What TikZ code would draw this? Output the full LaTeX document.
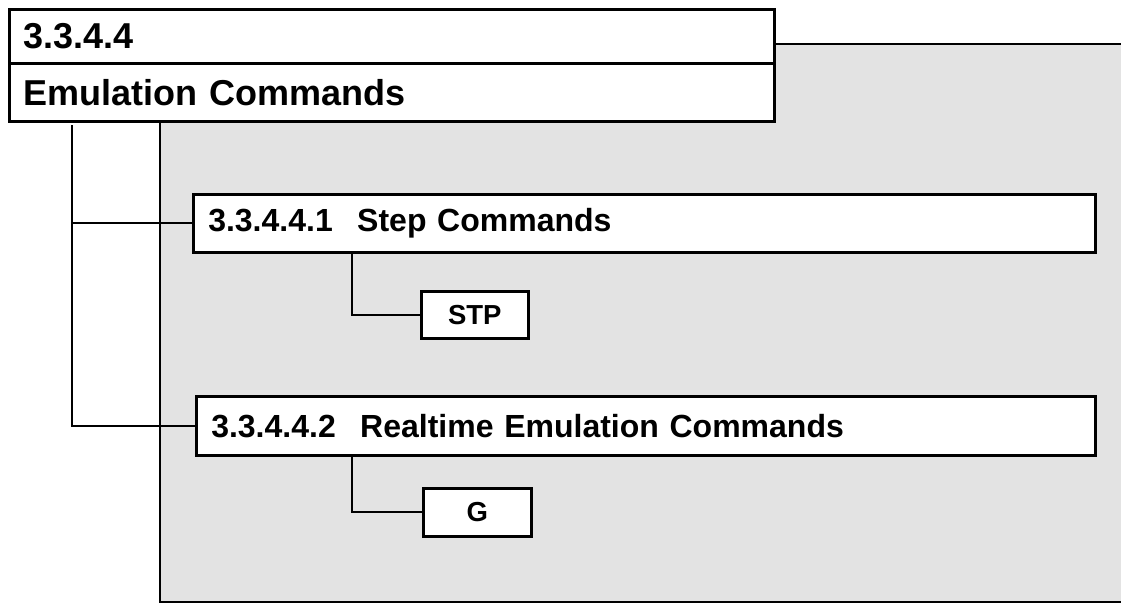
\documentclass[tikz,border=0pt]{standalone}
\usepackage{fontspec}
\setmainfont{Liberation Sans}
\definecolor{panelgray}{HTML}{E3E3E3}
\newcommand{\secnum}[1]{\makebox[149pt][l]{#1}}
\tikzset{
  titlebox/.style={draw=black, line width=3pt, fill=white, anchor=north west,
    inner xsep=14pt, inner ysep=0pt, align=left,
    font=\fontsize{36}{40}\selectfont\bfseries},
  secbox/.style={draw=black, line width=2.5pt, fill=white, anchor=north west,
    inner xsep=15pt, inner ysep=0pt, align=left,
    font=\fontsize{32}{36}\selectfont\bfseries},
  leafbox/.style={draw=black, line width=2.5pt, fill=white, anchor=north west,
    inner sep=0pt, align=center,
    font=\fontsize{27.5}{32}\selectfont\bfseries},
  conn/.style={draw=black, line width=2pt},
  panel/.style={fill=panelgray}
}
\begin{document}
\begin{tikzpicture}[x=1pt, y=-1pt]
\useasboundingbox (0,0) rectangle (1121,605);
\clip (0,0) rectangle (1121,605);
% gray panel
\fill[panel] (160,44) rectangle (1130,602);
\draw[line width=2.5pt] (1130,44) -- (160,44) -- (160,602) -- (1130,602);
% title boxes
\node[titlebox, text width=737pt, minimum height=54pt] (t1) at (8,8) {3.3.4.4};
\node[titlebox, text width=737pt, minimum height=58pt] (t2) at (8,62) {Emulation Commands};
% section boxes
\node[secbox, text width=872pt, minimum height=58pt] (s1) at (192,193) {\secnum{3.3.4.4.1}Step Commands};
\node[secbox, text width=869pt, minimum height=59pt] (s2) at (195,395) {\secnum{3.3.4.4.2}Realtime Emulation Commands};
% leaf boxes
\node[leafbox, minimum width=107pt, minimum height=47pt] (stp) at (420,290) {STP};
\node[leafbox, minimum width=108pt, minimum height=48pt] (g) at (422,487) {G};
% connectors
\coordinate (trunk) at (72,125);
\draw[conn] (trunk) |- (s1.west);
\draw[conn] (trunk) |- (s2.west);
\draw[conn] ([xshift=160pt]s1.south west) |- (stp.west);
\draw[conn] ([xshift=157pt]s2.south west) |- (g.west);
\end{tikzpicture}
\end{document}
